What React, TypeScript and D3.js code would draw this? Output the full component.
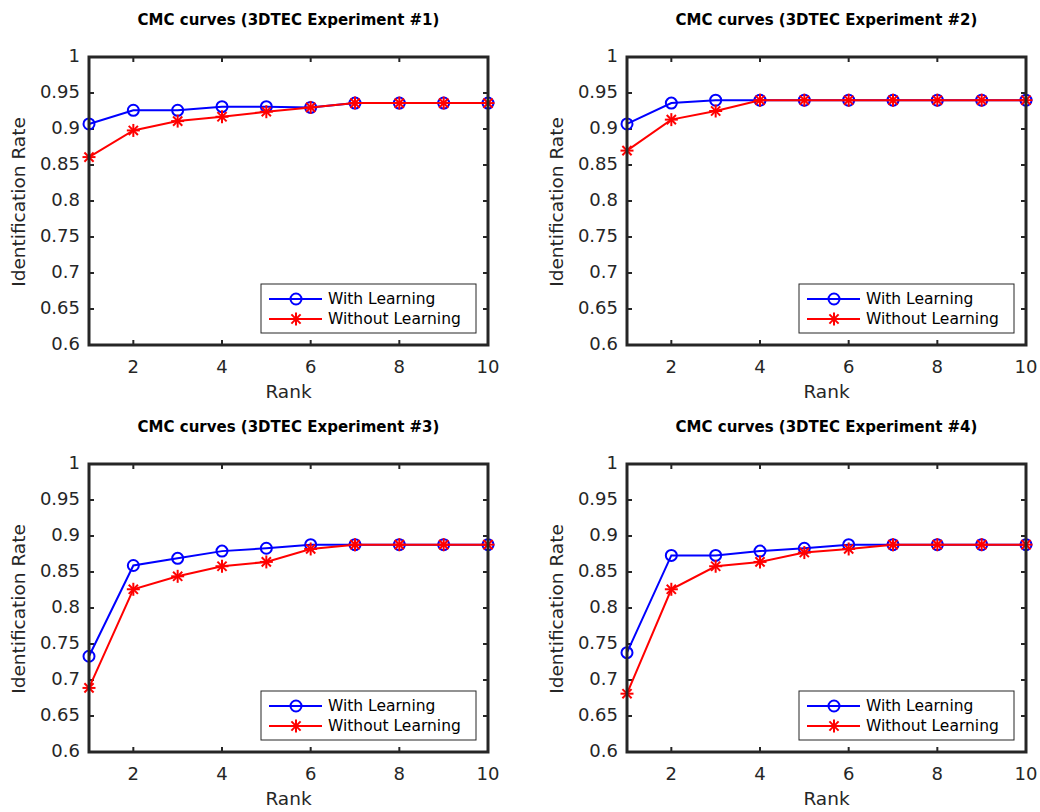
import React from 'react';
import * as d3 from 'd3';

const ranks = [1, 2, 3, 4, 5, 6, 7, 8, 9, 10];
const xTicks = [2, 4, 6, 8, 10];
const yTicks = [0.6, 0.65, 0.7, 0.75, 0.8, 0.85, 0.9, 0.95, 1];
const titles = [
  'CMC curves (3DTEC Experiment #1)',
  'CMC curves (3DTEC Experiment #2)',
  'CMC curves (3DTEC Experiment #3)',
  'CMC curves (3DTEC Experiment #4)',
];
const seriesNames = ['With Learning', 'Without Learning'];

const exp1With = [0.907, 0.926, 0.926, 0.931, 0.931, 0.93, 0.936, 0.936, 0.936, 0.936];
const exp1Without = [0.861, 0.898, 0.911, 0.917, 0.924, 0.93, 0.936, 0.936, 0.936, 0.936];
const exp2With = [0.907, 0.936, 0.94, 0.94, 0.94, 0.94, 0.94, 0.94, 0.94, 0.94];
const exp2Without = [0.87, 0.913, 0.925, 0.94, 0.94, 0.94, 0.94, 0.94, 0.94, 0.94];
const exp3With = [0.733, 0.859, 0.869, 0.879, 0.883, 0.888, 0.888, 0.888, 0.888, 0.888];
const exp3Without = [0.689, 0.826, 0.844, 0.858, 0.864, 0.882, 0.888, 0.888, 0.888, 0.888];
const exp4With = [0.738, 0.873, 0.873, 0.879, 0.883, 0.888, 0.888, 0.888, 0.888, 0.888];
const exp4Without = [0.681, 0.826, 0.858, 0.864, 0.877, 0.882, 0.888, 0.888, 0.888, 0.888];

const panelData = [
  [exp1With, exp1Without],
  [exp2With, exp2Without],
  [exp3With, exp3Without],
  [exp4With, exp4Without],
];

const FONT = '"DejaVu Sans", sans-serif';
const AX = '#262626';
const W = 399;
const H = 288;
const lefts = [89, 627];
const tops = [57, 464];

const Star = ({ x, y }: { x: number; y: number }) => {
  const r = 6.5;
  const d = r * 0.707;
  return (
    <g stroke="#ff0000" strokeWidth={2}>
      <line x1={x - r} y1={y} x2={x + r} y2={y} />
      <line x1={x} y1={y - r} x2={x} y2={y + r} />
      <line x1={x - d} y1={y - d} x2={x + d} y2={y + d} />
      <line x1={x - d} y1={y + d} x2={x + d} y2={y - d} />
    </g>
  );
};

const Panel = ({ idx }: { idx: number }) => {
  const left = lefts[idx % 2];
  const top = tops[Math.floor(idx / 2)];
  const x = d3.scaleLinear().domain([1, 10]).range([0, W]);
  const y = d3.scaleLinear().domain([0.6, 1]).range([H, 0]);
  const [withL, withoutL] = panelData[idx];
  const line = d3
    .line<number>()
    .x((_, i) => x(ranks[i]))
    .y((d) => y(d));
  const tl = 5;
  const lgX = W - 227;
  const lgY = H - 61;
  return (
    <g transform={`translate(${left},${top})`}>
      <text x={W / 2} y={-37} textAnchor="middle" dominantBaseline="middle" fontWeight="bold" fontSize={15} fill="#000">
        {titles[idx]}
      </text>
      {yTicks.map((t) => (
        <g key={'y' + t}>
          <line x1={0} x2={tl} y1={y(t)} y2={y(t)} stroke={AX} strokeWidth={2} />
          <line x1={W} x2={W - tl} y1={y(t)} y2={y(t)} stroke={AX} strokeWidth={2} />
          <text x={-9} y={y(t)} textAnchor="end" dominantBaseline="middle" fontSize={18} fill={AX}>
            {String(t)}
          </text>
        </g>
      ))}
      {xTicks.map((t) => (
        <g key={'x' + t}>
          <line x1={x(t)} x2={x(t)} y1={H} y2={H - tl} stroke={AX} strokeWidth={2} />
          <line x1={x(t)} x2={x(t)} y1={0} y2={tl} stroke={AX} strokeWidth={2} />
          <text x={x(t)} y={H + 23} textAnchor="middle" dominantBaseline="middle" fontSize={18} fill={AX}>
            {String(t)}
          </text>
        </g>
      ))}
      <text x={W / 2} y={H + 48} textAnchor="middle" dominantBaseline="middle" fontSize={18.5} fill={AX}>
        Rank
      </text>
      <text
        transform={`translate(${-69},${H / 2 + 1}) rotate(-90)`}
        textAnchor="middle"
        dominantBaseline="middle"
        fontSize={18.5}
        fill={AX}
      >
        Identification Rate
      </text>
      <path d={line(withL) || ''} fill="none" stroke="#0000ff" strokeWidth={2} />
      {withL.map((v, i) => (
        <circle key={'c' + i} cx={x(ranks[i])} cy={y(v)} r={5.5} fill="none" stroke="#0000ff" strokeWidth={2} />
      ))}
      <path d={line(withoutL) || ''} fill="none" stroke="#ff0000" strokeWidth={2} />
      {withoutL.map((v, i) => (
        <Star key={'s' + i} x={x(ranks[i])} y={y(v)} />
      ))}
      <rect x={0} y={0} width={W} height={H} fill="none" stroke={AX} strokeWidth={3} />
      <g transform={`translate(${lgX},${lgY})`}>
        <rect x={0} y={0} width={215} height={49} fill="#fff" stroke={AX} strokeWidth={1} />
        <line x1={8} x2={61} y1={15} y2={15} stroke="#0000ff" strokeWidth={2} />
        <circle cx={35} cy={15} r={5.5} fill="none" stroke="#0000ff" strokeWidth={2} />
        <text x={67} y={15} dominantBaseline="middle" fontSize={15.5} fill="#000">
          {seriesNames[0]}
        </text>
        <line x1={8} x2={61} y1={35} y2={35} stroke="#ff0000" strokeWidth={2} />
        <Star x={35} y={35} />
        <text x={67} y={35} dominantBaseline="middle" fontSize={15.5} fill="#000">
          {seriesNames[1]}
        </text>
      </g>
    </g>
  );
};

export default function App() {
  return (
    <svg
      width={1040}
      height={812}
      style={{ position: 'absolute', left: 0, top: 0, fontFamily: FONT, background: '#fff' }}
    >
      <rect width={1040} height={812} fill="#fff" />
      {[0, 1, 2, 3].map((i) => (
        <Panel key={i} idx={i} />
      ))}
    </svg>
  );
}
